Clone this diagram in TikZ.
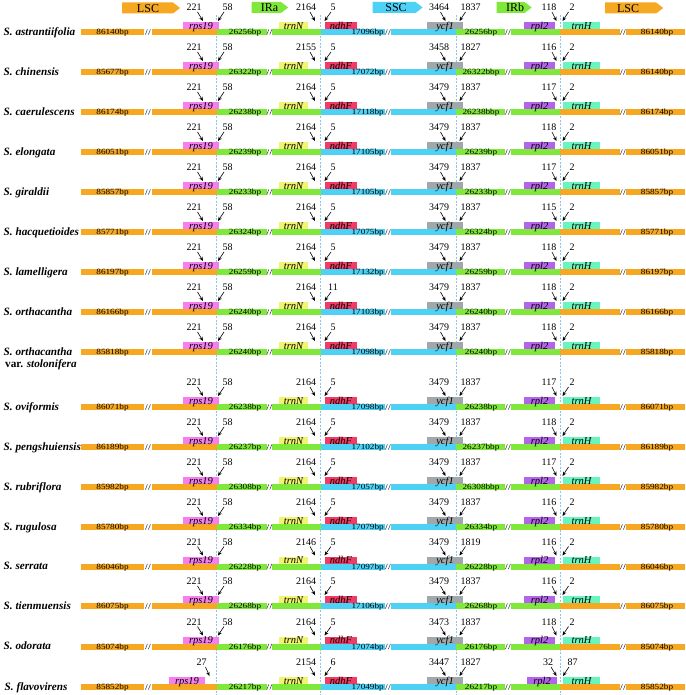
\documentclass[tikz,border=0pt]{standalone}
\usepackage{fontspec}
\setmainfont{Liberation Serif}
\usetikzlibrary{arrows.meta}
\definecolor{cLSC}{HTML}{F7A823}
\definecolor{cIR}{HTML}{80E83A}
\definecolor{cSSC}{HTML}{4DD2F5}
\definecolor{cRps}{HTML}{F57FEF}
\definecolor{cTrnN}{HTML}{F0F46E}
\definecolor{cNdh}{HTML}{F03C64}
\definecolor{cYcf}{HTML}{A0A8AC}
\definecolor{cRpl}{HTML}{B464EB}
\definecolor{cTrnH}{HTML}{68F5BE}
\definecolor{cDash}{HTML}{8CC4EE}
\begin{document}
\begin{tikzpicture}[x=1pt,y=-1pt,
  numlbl/.style={font=\fontsize{10}{10}\selectfont,anchor=base,inner sep=0pt},
  bplbl/.style={font=\fontsize{8}{8}\selectfont,anchor=base,inner sep=0pt,xscale=1.15},
  bplble/.style={bplbl,anchor=base east},
  genelbl/.style={font=\fontsize{10.5}{10.5}\selectfont\itshape,anchor=base,inner sep=0pt},
  splbl/.style={font=\fontsize{11.2}{12}\selectfont\bfseries\itshape,anchor=base west,inner sep=0pt},
  ptr/.style={-{Stealth[length=4.2pt,width=3.6pt]},line width=0.6pt},
  brk/.style={line width=0.45pt,black!85},
  divline/.style={cDash,dash pattern=on 2pt off 1.5pt,line width=0.55pt},
  reglbl/.style={font=\fontsize{12}{12}\selectfont,anchor=base,inner sep=0pt}
]
\useasboundingbox (0,0) rectangle (685,695);
\fill[white] (0,0) rectangle (685,695);

% region arrows
\fill[cLSC] (122,2.5) -- (173,2.5) -- (180,8) -- (173,13.5) -- (122,13.5) -- cycle;
\node[reglbl] (rLSCa) at (148,12.5) {LSC};
\fill[cIR] (251.7,2) -- (281,2) -- (288.3,7.5) -- (281,13) -- (251.7,13) -- cycle;
\node[reglbl] (rIRa) at (269.5,11.8) {IRa};
\fill[cSSC] (372.7,2) -- (415.5,2) -- (422.7,7.5) -- (415.5,13) -- (372.7,13) -- cycle;
\node[reglbl] (rSSC) at (396,11.8) {SSC};
\fill[cIR] (496.7,2) -- (524.5,2) -- (531.7,7.5) -- (524.5,13) -- (496.7,13) -- cycle;
\node[reglbl] (rIRb) at (515,11.8) {IRb};
\fill[cLSC] (605,2.5) -- (656,2.5) -- (663.3,8) -- (656,13.5) -- (605,13.5) -- cycle;
\node[reglbl] (rLSCb) at (628,12.5) {LSC};

% boundary lines
\foreach \x/\k in {216.7/1,320.7/2,456/3,560/4}{
  \coordinate (dt\k) at (\x,15);
  \coordinate (db\k) at (\x,695);
  \draw[divline] (dt\k) -- (db\k);
}

% generic bars for all rows
\foreach \i/\cy in {1/32,2/72,3/112,4/152,5/192,6/232,7/272,8/312,9/352,10/407,11/447,12/487,13/527,14/566.5,15/606,16/646.5,17/687}{
  \fill[cLSC] (81,\cy-3) rectangle (144,\cy+3);
  \fill[cLSC] (152,\cy-3) rectangle (216.7,\cy+3);
  \fill[cIR] (216.7,\cy-3) rectangle (267,\cy+3);
  \fill[cIR] (271.7,\cy-3) rectangle (320.7,\cy+3);
  \fill[cSSC] (320.7,\cy-3) rectangle (385,\cy+3);
  \fill[cSSC] (391,\cy-3) rectangle (456,\cy+3);
  \fill[cIR] (456,\cy-3) rectangle (505,\cy+3);
  \fill[cIR] (511,\cy-3) rectangle (560,\cy+3);
  \fill[cLSC] (560,\cy-3) rectangle (620,\cy+3);
  \fill[cLSC] (626,\cy-3) rectangle (685,\cy+3);
  \foreach \bx in {148,269.4,388,508,623}{
    \draw[brk] (\bx-2.6,\cy+2.6) -- (\bx-0.6,\cy-2.6);
    \draw[brk] (\bx+0.4,\cy+2.6) -- (\bx+2.4,\cy-2.6);
  }
  % constant gene boxes
  \fill[cTrnN] (279,\cy-10) rectangle (308,\cy-3);
  \node[genelbl] (gtrnN\i) at (293.5,\cy-2.7) {trnN};
  \fill[cNdh] (325,\cy-10) rectangle (357,\cy-3);
  \node[genelbl] (gndhF\i) at (341,\cy-2.7) {ndhF};
  \fill[cYcf] (427,\cy-10) rectangle (463,\cy-3);
  \node[genelbl] (gycf\i) at (445,\cy-2.7) {ycf1};
  \fill[cTrnH] (563,\cy-10) rectangle (600,\cy-3);
  \node[genelbl] (gtrnH\i) at (581.5,\cy-2.7) {trnH};
}

% standard rows
\foreach \i/\cy/\sp/\la/\na/\nb/\ia/\nc/\nd/\sb/\ne/\nf/\ib/\ng/\nh/\lb in {
 1/32/astrantiifolia/86140bp/221/58/26256bp/2164/5/17096bp/3464/1837/26256bp/118/2/86140bp,
 2/72/chinensis/85677bp/221/58/26322bp/2155/5/17072bp/3458/1827/26322bbp/116/2/86140bp,
 3/112/caerulescens/86174bp/221/58/26238bp/2164/5/17118bp/3479/1837/26238bbp/117/2/86174bp,
 4/152/elongata/86051bp/221/58/26239bp/2164/5/17105bp/3479/1837/26239bp/118/2/86051bp,
 5/192/giraldii/85857bp/221/58/26233bp/2164/5/17105bp/3479/1837/26233bp/117/2/85857bp,
 6/232/hacquetioides/85771bp/221/58/26324bp/2164/5/17075bp/3479/1837/26324bp/115/2/85771bp,
 7/272/lamelligera/86197bp/221/58/26259bp/2164/5/17132bp/3479/1837/26259bp/118/2/86197bp,
 8/312/orthacantha/86166bp/221/58/26240bp/2164/11/17103bp/3479/1837/26240bp/118/2/86166bp,
 9/352/orthacantha/85818bp/221/58/26240bp/2164/5/17098bp/3479/1837/26240bp/118/2/85818bp,
 10/407/oviformis/86071bp/221/58/26238bp/2164/5/17098bp/3479/1837/26238bp/117/2/86071bp,
 11/447/pengshuiensis/86189bp/221/58/26237bp/2164/5/17102bp/3479/1837/26237bbp/118/2/86189bp,
 12/487/rubriflora/85982bp/221/58/26308bp/2164/5/17057bp/3479/1837/26308bbp/117/2/85982bp,
 13/527/rugulosa/85780bp/221/58/26334bp/2164/5/17079bp/3479/1837/26334bp/116/2/85780bp,
 14/566.5/serrata/86046bp/221/58/26228bp/2146/5/17097bp/3479/1819/26228bp/116/2/86046bp,
 15/606/tienmuensis/86075bp/221/58/26268bp/2164/5/17106bp/3479/1837/26268bp/116/2/86075bp,
 16/646.5/odorata/85074bp/221/58/26176bp/2164/5/17074bp/3473/1837/26176bp/118/2/85074bp}{
  \node[splbl] (sp\i) at (3.5,\cy+3.3) {S.~\sp};
  % bar labels
  \node[bplbl] (bla\i) at (112.5,\cy+2.6) {\la};
  \node[bplbl] (bia\i) at (245,\cy+2.6) {\ia};
  \node[bplble] (bsb\i) at (384,\cy+2.6) {\sb};
  \node[bplbl] (bib\i) at (481,\cy+2.6) {\ib};
  \node[bplbl] (blb\i) at (657,\cy+2.6) {\lb};
  % variable gene boxes
  \fill[cRps] (183,\cy-10) rectangle (219,\cy-3);
  \node[genelbl] (grps\i) at (201,\cy-2.7) {rps19};
  \fill[cRpl] (524,\cy-10) rectangle (555,\cy-3);
  \node[genelbl] (grpl\i) at (539.5,\cy-2.7) {rpl2};
  % numbers and pointers
  \node[numlbl] (na\i) at (194,\cy-21.3) {\na};
  \node[numlbl] (nb\i) at (227.5,\cy-21.3) {\nb};
  \node[numlbl] (nc\i) at (306,\cy-21.3) {\nc};
  \node[numlbl] (nd\i) at (333,\cy-21.3) {\nd};
  \node[numlbl] (ne\i) at (439,\cy-21.3) {\ne};
  \node[numlbl] (nf\i) at (470.5,\cy-21.3) {\nf};
  \node[numlbl] (ng\i) at (549,\cy-21.3) {\ng};
  \node[numlbl] (nh\i) at (572,\cy-21.3) {\nh};
  \foreach \k/\sx/\ex in {a/197.5/203,b/224/218,c/310/315,d/331/324.5,e/440.5/445.5,f/465.5/459.5,g/552/556.5,h/568.5/562.5}{
    \coordinate (s\k\i) at (\sx,\cy-20);
    \coordinate (e\k\i) at (\ex,\cy-11);
    \draw[ptr] (s\k\i) -- (e\k\i);
  }
}
\node[font=\fontsize{11.2}{12}\selectfont\bfseries,anchor=base west,inner sep=0pt] (sp9b) at (5,367.5) {var. \textit{stolonifera}};

% row 17: S. flavovirens
\def\cy{687}
\node[splbl] (sp17) at (4.5,\cy+3.3) {S.~flavovirens};
\node[bplbl] (bla17) at (112.5,\cy+2.6) {85852bp};
\node[bplbl] (bia17) at (245,\cy+2.6) {26217bp};
\node[bplble] (bsb17) at (384,\cy+2.6) {17049bp};
\node[bplbl] (bib17) at (481,\cy+2.6) {26217bp};
\node[bplbl] (blb17) at (657,\cy+2.6) {85852bp};
\fill[cRps] (169,\cy-10) rectangle (205,\cy-3);
\node[genelbl] (grps17) at (187,\cy-2.7) {rps19};
\fill[cRpl] (527,\cy-10) rectangle (557,\cy-3);
\node[genelbl] (grpl17) at (542,\cy-2.7) {rpl2};
\node[numlbl] (na17) at (201.5,\cy-21.3) {27};
\node[numlbl] (nc17) at (306,\cy-21.3) {2154};
\node[numlbl] (nd17) at (333,\cy-21.3) {6};
\node[numlbl] (ne17) at (439,\cy-21.3) {3447};
\node[numlbl] (nf17) at (470.5,\cy-21.3) {1827};
\node[numlbl] (ng17) at (548,\cy-21.3) {32};
\node[numlbl] (nh17) at (572.5,\cy-21.3) {87};
\foreach \k/\sx/\ex in {a/205.5/209.5,c/310/315,d/331/324.5,e/440.5/445.5,f/465.5/459.5,g/551/556.5,h/569/563}{
  \coordinate (s\k17) at (\sx,\cy-20);
  \coordinate (e\k17) at (\ex,\cy-11);
  \draw[ptr] (s\k17) -- (e\k17);
}
\end{tikzpicture}
\end{document}
